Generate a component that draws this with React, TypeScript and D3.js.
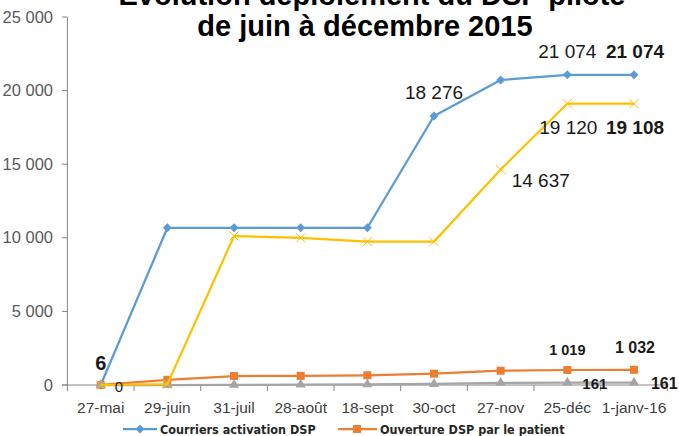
import React from 'react'
import * as d3 from 'd3'

const categories = ['27-mai', '29-juin', '31-juil', '28-août', '18-sept', '30-oct', '27-nov', '25-déc', '1-janv-16']
const courriers = [0, 10680, 10680, 10680, 10680, 18276, 20720, 21074, 21074]
const ouverture = [6, 350, 610, 620, 660, 770, 970, 1019, 1032]
const connexions = [0, 0, 10, 30, 40, 70, 150, 161, 161]
const dsp = [0, 60, 10120, 10000, 9740, 9740, 14637, 19120, 19108]
const yTicks = [0, 5000, 10000, 15000, 20000, 25000]
const titleLines = ['Evolution déploiement du DSP  pilote', 'de juin à décembre 2015']

const W = 679
const H = 436
const fmt = (v: number) => d3.format(',')(v).replace(/,/g, ' ')

const series = [
  { name: 'Courriers activation DSP', values: courriers, color: '#5B9BD5', marker: 'diamond' },
  { name: 'Ouverture DSP par le patient', values: ouverture, color: '#ED7D31', marker: 'square' },
  { name: 'Connexions', values: connexions, color: '#A5A5A5', marker: 'triangle' },
  { name: 'DSP créés', values: dsp, color: '#FFC000', marker: 'x' },
]

// which point gets a label, and how it sits next to the point
const labels = [
  { s: 0, i: 5, bold: false, size: 19, dx: 0, dy: -17, anchor: 'middle' },
  { s: 0, i: 7, bold: false, size: 19, dx: 0, dy: -17, anchor: 'middle' },
  { s: 0, i: 8, bold: true, size: 19, dx: 1, dy: -17, anchor: 'middle' },
  { s: 3, i: 6, bold: false, size: 19, dx: 11, dy: 17, anchor: 'start' },
  { s: 3, i: 7, bold: false, size: 19, dx: 1, dy: 30, anchor: 'middle' },
  { s: 3, i: 8, bold: true, size: 19, dx: 1, dy: 30, anchor: 'middle' },
  { s: 1, i: 0, bold: true, size: 20, dx: 0, dy: -15, anchor: 'middle' },
  { s: 0, i: 0, bold: false, size: 15, dx: 14, dy: 7, anchor: 'start' },
  { s: 1, i: 7, bold: true, size: 14.5, dx: 0, dy: -15, anchor: 'middle' },
  { s: 1, i: 8, bold: true, size: 16, dx: 1, dy: -17, anchor: 'middle' },
  { s: 2, i: 7, bold: true, size: 15, dx: 15, dy: 6, anchor: 'start' },
  { s: 2, i: 8, bold: true, size: 16, dx: 17, dy: 6, anchor: 'start' },
]

const Marker = ({ kind, cx, cy, color }: { kind: string; cx: number; cy: number; color: string }) => {
  if (kind === 'diamond') {
    const r = 4.5
    return <path d={`M${cx},${cy - r}L${cx + r},${cy}L${cx},${cy + r}L${cx - r},${cy}Z`} fill={color} />
  }
  if (kind === 'square') {
    return <rect x={cx - 4} y={cy - 4} width={8} height={8} fill={color} />
  }
  if (kind === 'triangle') {
    const p = d3.symbol(d3.symbolTriangle, 45)()
    return <path d={p || ''} transform={`translate(${cx},${cy})`} fill={color} />
  }
  const r = 4.5
  return (
    <path d={`M${cx - r},${cy - r}L${cx + r},${cy + r}M${cx - r},${cy + r}L${cx + r},${cy - r}`} stroke={color} strokeWidth={1} fill="none" />
  )
}

export default function App() {
  const x = d3.scaleBand().domain(categories).range([67.4, 667.3])
  const y = d3.scaleLinear().domain([0, 25000]).range([385, 17])
  const cx = (i: number) => (x(categories[i]) || 0) + x.bandwidth() / 2
  const line = d3.line<number>().x((_, i) => cx(i)).y(d => y(d))

  const bounds = categories.map(c => x(c) || 0).concat([x.range()[1]])

  return (
    <svg width={W} height={H} style={{ position: 'absolute', left: 0, top: 0, background: '#fff' }} fontFamily="'Liberation Sans', Arial, sans-serif">
      {/* title, partly cut off at the top as in the source */}
      <text x={372} y={5} textAnchor="middle" fontSize={29} fontWeight="bold" fill="#000">{titleLines[0]}</text>
      <text x={365} y={36} textAnchor="middle" fontSize={29} fontWeight="bold" fill="#000">{titleLines[1]}</text>

      {/* y axis */}
      <line x1={67.4} x2={67.4} y1={y(25000)} y2={y(0)} stroke="#868686" />
      {yTicks.map(t => (
        <g key={t}>
          <line x1={62} x2={67.4} y1={y(t)} y2={y(t)} stroke="#868686" />
          <text x={53} y={y(t) + 5.5} textAnchor="end" fontSize={16.5} fill="#595959">{fmt(t)}</text>
        </g>
      ))}

      {/* x axis */}
      <line x1={62} x2={x.range()[1]} y1={y(0)} y2={y(0)} stroke="#868686" />
      {bounds.map((b, i) => (
        <line key={i} x1={b} x2={b} y1={y(0)} y2={y(0) + 6} stroke="#868686" />
      ))}
      {categories.map((c, i) => (
        <text key={c} x={cx(i)} y={413} textAnchor="middle" fontSize={15.5} fill="#404040">{c}</text>
      ))}

      {/* series */}
      {series.map(s => (
        <g key={s.name}>
          <path d={line(s.values) || ''} fill="none" stroke={s.color} strokeWidth={2.25} strokeLinejoin="round" />
          {s.values.map((v, i) => (
            <Marker key={i} kind={s.marker} cx={cx(i)} cy={y(v)} color={s.color} />
          ))}
        </g>
      ))}

      {/* data labels */}
      {labels.map((l, k) => {
        const v = series[l.s].values[l.i]
        return (
          <text key={k} x={cx(l.i) + l.dx} y={y(v) + l.dy} textAnchor={l.anchor as 'start' | 'middle'}
            fontSize={l.size} fontWeight={l.bold ? 'bold' : 'normal'} fill="#1a1a1a">{fmt(v)}</text>
        )
      })}

      {/* legend, second row is cut off */}
      <g fontFamily="'Liberation Sans Narrow', 'DejaVu Sans Condensed', Arial, sans-serif" fontWeight="bold" fontSize={12.5} fill="#262626">
        <line x1={123} x2={157} y1={429} y2={429} stroke={series[0].color} strokeWidth={2.25} />
        <Marker kind="diamond" cx={140} cy={429} color={series[0].color} />
        <text x={160} y={433.5}>{series[0].name}</text>
        <line x1={338} x2={377} y1={429} y2={429} stroke={series[1].color} strokeWidth={2.25} />
        <Marker kind="square" cx={357} cy={429} color={series[1].color} />
        <text x={380} y={433.5}>{series[1].name}</text>
      </g>
    </svg>
  )
}
